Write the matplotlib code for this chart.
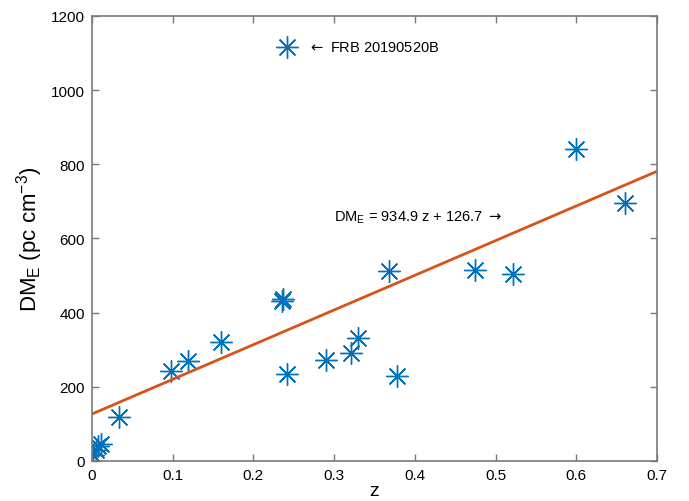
import numpy as np
import matplotlib.pyplot as plt

plt.rcParams['font.family'] = ['Liberation Sans', 'DejaVu Sans']

# redshift and extragalactic DM of the localised FRBs
z = [0.001, 0.005, 0.008, 0.011, 0.034, 0.098, 0.119, 0.160, 0.235, 0.237,
     0.242, 0.290, 0.321, 0.329, 0.368, 0.378, 0.475, 0.522, 0.600, 0.660]
dm = [15, 30, 40, 45, 119, 242, 270, 322, 432, 438,
      235, 273, 292, 332, 511, 230, 515, 505, 841, 695]

# the outlier FRB 20190520B
z_out = 0.242
dm_out = 1116

# linear fit
slope = 934.9
intercept = 126.7
zfit = np.array([0, 0.7])

blue = '#0072BD'
orange = '#D95319'
gray = '#7a7a7a'

fig = plt.figure(figsize=(6.89, 5.02), dpi=100)
ax = fig.add_axes([0.1335, 0.0797, 0.8200, 0.8865])

ax.plot(z, dm, ls='none', marker=(8, 2, 0), ms=16, mew=1.0, color=blue)
ax.plot([z_out], [dm_out], ls='none', marker=(8, 2, 0), ms=16, mew=1.0, color=blue)
ax.plot(zfit, slope * zfit + intercept, color=orange, lw=2)

ax.text(0.268, dm_out, r'$\leftarrow$ FRB 20190520B', fontsize=10.5, va='center',
        ha='left')
ax.text(0.300, 660, r'DM$_\mathregular{E}$ = 934.9 z + 126.7 $\rightarrow$',
        fontsize=10.5, va='center', ha='left')

ax.set_xlim(0, 0.7)
ax.set_ylim(0, 1200)
ax.set_xticks(np.arange(0, 0.71, 0.1))
ax.set_xticklabels(['0', '0.1', '0.2', '0.3', '0.4', '0.5', '0.6', '0.7'])
ax.set_yticks(np.arange(0, 1201, 200))

ax.set_xlabel('z', fontsize=14, labelpad=0)
ax.set_ylabel(r'DM$_\mathregular{E}$ (pc cm$^\mathregular{-3}$)', fontsize=16,
              labelpad=4)

for s in ax.spines.values():
    s.set_color(gray)
    s.set_linewidth(1.2)
ax.tick_params(direction='in', top=True, right=True, length=5, width=1,
               color=gray, labelsize=11, pad=5)

fig.savefig('out.png', dpi=100)
